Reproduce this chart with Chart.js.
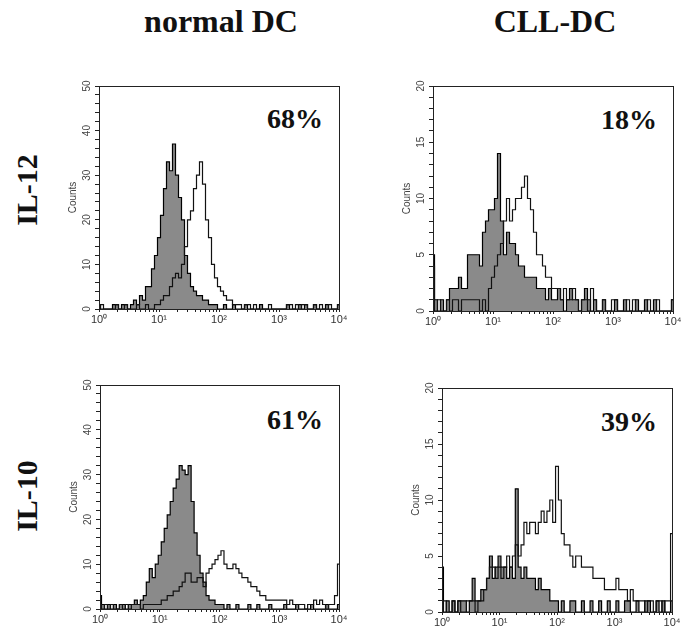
<!DOCTYPE html>
<html>
<head>
<meta charset="utf-8">
<script src="https://cdn.jsdelivr.net/npm/chart.js@4"></script>
<style>
  body { margin: 0; background: #fff; }
  #page { position: relative; width: 689px; height: 630px; overflow: hidden; }
  .box { position: absolute; }
  .lbl { position: absolute; font-family: "Liberation Serif", serif; font-weight: bold; color: #111; line-height: 1; white-space: nowrap; }
</style>
</head>
<body>
<div id="page">
  <div class="lbl" style="left:221px; top:5px; font-size:32px; transform:translateX(-50%);">normal DC</div>
  <div class="lbl" style="left:555px; top:5px; font-size:32px; transform:translateX(-50%);">CLL-DC</div>
  <div class="lbl" style="left:27px; top:190px; font-size:30px; transform:translate(-50%,-50%) rotate(-90deg);">IL-12</div>
  <div class="lbl" style="left:27px; top:496px; font-size:30px; transform:translate(-50%,-50%) rotate(-90deg);">IL-10</div>
  <div class="lbl" style="right:366px; top:105px; font-size:28px;">68%</div>
  <div class="lbl" style="right:32px; top:106px; font-size:28px;">18%</div>
  <div class="lbl" style="right:366px; top:406px; font-size:28px;">61%</div>
  <div class="lbl" style="right:32px; top:408px; font-size:28px;">39%</div>
  <div class="box" id="b1"><canvas id="c1"></canvas></div>
  <div class="box" id="b2"><canvas id="c2"></canvas></div>
  <div class="box" id="b3"><canvas id="c3"></canvas></div>
  <div class="box" id="b4"><canvas id="c4"></canvas></div>
</div>
<script>
// channel grid: 20 bins per decade, 10^0 .. 10^4
const channels = Array.from({length: 81}, (_, i) => i / 20);
const decadeLabels = ['10\u2070', '10\u00B9', '10\u00B2', '10\u00B3', '10\u2074'];

// normal DC, IL-12
const normalIL12Ctrl = [1,0,0,0,0,1,1,0,1,1, 0,1,2,1,3,2,5,5,9,12,
  16,21,27,33,31,37,30,25,20,12, 8,5,4,3,3,2,2,1,1,1,
  0,0,1,0,0,1,0,0,0,1, 0,0,0,0,1,0,0,0,0,0, 0,0,0,1,0,0,0,1,0,1, 0,0,1,0,0,0,1,0,0,0, 1];
const normalIL12Stain = [0,1,0,0,0,0,1,0,0,1, 0,0,0,1,0,0,1,0,0,1,
  1,2,3,3,5,7,8,7,10,14, 20,22,27,30,33,28,20,16,10,7,
  5,4,3,2,2,1,1,1,0,1, 1,0,1,0,0,0,0,1,0,0, 0,0,0,1,1,0,1,0,1,1, 0,0,1,0,1,0,0,1,0,0, 1];

// CLL-DC, IL-12
const cllIL12Ctrl = [5,1,0,1,0,1,2,2,2,3, 2,2,5,5,5,5,4,7,8,9,
  9,10,14,8,5,7,6,6,5,4, 4,3,3,3,3,2,2,2,1,2,
  1,1,2,1,0,1,2,1,1,0, 1,2,1,0,1,0,0,1,0,0, 0,1,0,0,1,0,0,0,1,0, 0,1,0,0,1,0,0,0,0,0, 1];
const cllIL12Stain = [4,0,1,0,0,1,0,1,1,0, 1,1,1,1,1,1,0,1,0,2,
  3,4,5,6,8,10,8,9,10,10, 11,12,10,9,7,5,5,4,3,3,
  2,2,2,1,2,1,1,2,1,0, 1,1,0,2,1,0,0,1,0,0, 1,1,0,0,0,1,0,1,0,0, 0,0,1,0,0,1,0,0,0,0, 1];

// normal DC, IL-10
const normalIL10Ctrl = [3,1,0,1,0,1,0,1,1,0, 1,1,2,1,2,3,6,9,7,10,
  12,15,18,21,24,27,29,32,31,30, 32,24,17,12,8,6,3,2,2,1,
  1,1,0,1,0,0,1,0,0,0, 1,0,0,1,0,0,0,1,0,0, 0,0,1,0,0,0,1,0,0,0, 0,1,0,0,0,0,1,0,0,0, 1];
const normalIL10Stain = [1,0,1,0,1,0,0,1,0,1, 0,1,1,1,0,1,1,1,1,1,
  1,2,2,3,3,4,4,5,6,8, 8,6,6,7,7,5,8,9,10,11,
  12,13,10,9,9,10,9,8,7,7, 6,5,5,4,3,3,2,2,2,2,
  2,2,2,1,2,1,1,1,1,0, 1,1,2,1,2,1,0,1,1,3, 10];

// CLL-DC, IL-10
const cllIL10Ctrl = [4,0,1,0,1,0,1,1,1,0, 1,3,1,1,2,2,3,5,3,4,
  5,4,4,3,4,3,11,4,3,4, 3,3,3,2,3,2,2,2,1,1,
  1,0,1,0,0,1,1,0,0,1, 0,0,1,0,0,1,0,0,1,0, 0,1,0,0,1,1,0,0,1,0, 0,1,1,0,0,1,0,1,0,0, 1];
const cllIL10Stain = [0,1,0,0,1,0,1,0,0,1, 1,1,0,1,1,2,3,4,4,3,
  4,3,4,5,4,5,6,5,6,8, 7,8,8,7,8,9,8,9,10,8,
  13,10,7,6,6,5,4,5,5,4, 4,4,4,3,3,3,3,2,2,2,
  2,3,2,2,2,1,2,1,1,1, 1,0,1,1,0,1,1,0,1,1, 7];

// minor log ticks inside each decade
const xTicks = [];
for (let d = 0; d < 4; d++) {
  for (let k = 1; k <= 9; k++) xTicks.push(d + Math.log10(k));
}
xTicks.push(4);

const framePlugin = {
  id: 'frame',
  afterDraw(chart) {
    const a = chart.chartArea;
    const ctx = chart.ctx;
    ctx.save();
    ctx.strokeStyle = '#222';
    ctx.lineWidth = 1;
    ctx.strokeRect(Math.round(a.left) + 0.5, Math.round(a.top) + 0.5, Math.round(a.width), Math.round(a.height));
    ctx.restore();
  }
};

function panel(n, rect, yMax, yStep, yEvery, ctrl, stain) {
  const [pl, pt, pr, pb] = rect;
  const box = document.getElementById('b' + n);
  const left = pl - 44, top = pt - 8;
  box.style.left = left + 'px';
  box.style.top = top + 'px';
  box.style.width = (pr - left + 10) + 'px';
  box.style.height = (pb + 22 - top) + 'px';

  new Chart(document.getElementById('c' + n), {
    type: 'line',
    data: {
      labels: channels,
      datasets: [{
        label: 'isotype',
        data: ctrl,
        stepped: 'middle',
        borderColor: '#000',
        borderWidth: 1.2,
        backgroundColor: '#8a8a8a',
        fill: 'origin',
        pointRadius: 0,
        order: 2
      },
      {
        label: 'cytokine',
        data: stain,
        stepped: 'middle',
        borderColor: '#111',
        borderWidth: 1.2,
        fill: false,
        pointRadius: 0,
        order: 1
      }]
    },
    options: {
      responsive: true,
      maintainAspectRatio: false,
      animation: false,
      layout: { padding: { top: 8, right: 10, bottom: 0, left: 0 } },
      plugins: { legend: { display: false }, tooltip: { enabled: false } },
      scales: {
        x: {
          type: 'linear',
          min: 0,
          max: 4,
          afterBuildTicks: s => { s.ticks = xTicks.map(v => ({ value: v })); },
          afterFit: s => { s.height = 22; },
          ticks: {
            autoSkip: false,
            maxRotation: 0,
            padding: 1,
            color: '#333',
            font: { family: 'Liberation Sans', size: 11 },
            callback: v => Number.isInteger(v) ? decadeLabels[v] : ''
          },
          grid: { drawOnChartArea: false, tickLength: 3, color: '#222' },
          border: { color: '#222' }
        },
        y: {
          min: 0,
          max: yMax,
          afterFit: s => { s.width = 44; },
          ticks: {
            stepSize: yStep,
            autoSkip: false,
            minRotation: 90,
            maxRotation: 90,
            crossAlign: 'center',
            padding: 2,
            color: '#444',
            font: { family: 'Liberation Sans', size: 10 },
            callback: v => v % yEvery === 0 ? v : ''
          },
          title: {
            display: true,
            text: 'Counts',
            color: '#444',
            font: { family: 'Liberation Sans', size: 10 },
            padding: { top: 12, bottom: 0 }
          },
          grid: { drawOnChartArea: false, tickLength: 4, color: '#222' },
          border: { color: '#222' }
        }
      }
    },
    plugins: [framePlugin]
  });
}

panel(1, [99, 86, 339, 309], 50, 2, 10, normalIL12Ctrl, normalIL12Stain);
panel(2, [433, 86, 673, 311], 20, 1, 5, cllIL12Ctrl, cllIL12Stain);
panel(3, [100, 385, 339, 609], 50, 2, 10, normalIL10Ctrl, normalIL10Stain);
panel(4, [442, 388, 672, 612], 20, 1, 5, cllIL10Ctrl, cllIL10Stain);
</script>
</body>
</html>
